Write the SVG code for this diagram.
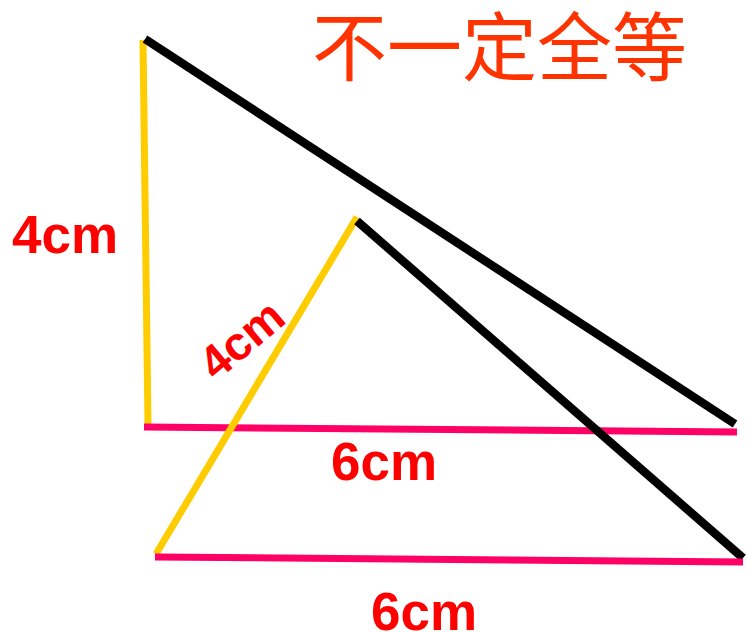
<svg xmlns="http://www.w3.org/2000/svg" width="747" height="632" viewBox="0 0 747 632">
<style>
.y{stroke:#FFCC00;stroke-width:7;fill:none}
.k{stroke:#000;stroke-width:8.5;fill:none}
.p{stroke:#FF0066;stroke-width:7;fill:none}
.lbl{font-family:"Liberation Sans",Arial,sans-serif;font-weight:bold;font-size:53px;fill:#FF0000}
.title{font-family:"Noto Sans CJK SC","Noto Sans",sans-serif;font-size:75px;fill:#FF3300}
</style>
<rect width="747" height="632" fill="#fff"/>
<g id="connectors">
<g id="triangle1">
<line class="y" x1="143" y1="40" x2="148" y2="425"/>
<line class="k" x1="145" y1="39" x2="735" y2="424"/>
<line class="p" x1="144" y1="427" x2="737" y2="432"/>
</g>
<g id="triangle2">
<line class="y" x1="357" y1="217" x2="156" y2="554"/>
<line class="k" x1="357" y1="221" x2="743" y2="558"/>
<line class="p" x1="155" y1="557" x2="743" y2="562"/>
</g>
</g>
<g id="title"><text class="title" x="312" y="75">不一定全等</text></g>
<g id="label-4cm-a"><text class="lbl" x="12" y="253">4cm</text></g>
<g id="label-4cm-b"><text class="lbl" style="font-size:47px" transform="translate(216,382) rotate(-40)">4cm</text></g>
<g id="label-6cm-a"><text class="lbl" x="331" y="480">6cm</text></g>
<g id="label-6cm-b"><text class="lbl" x="371" y="630">6cm</text></g>
</svg>
